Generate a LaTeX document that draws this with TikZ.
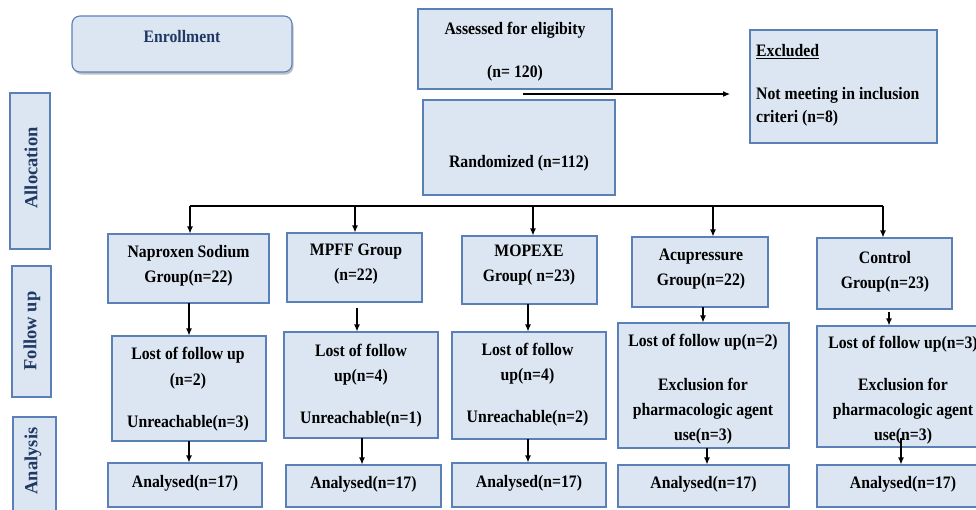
\documentclass[tikz,border=0pt]{standalone}
\usepackage{fontspec}
\setmainfont{Liberation Serif}[FakeStretch=0.9]
\newfontfamily\sidefont{Liberation Serif}
\usetikzlibrary{arrows.meta,shadows}
\definecolor{boxfill}{HTML}{DCE6F2}
\definecolor{boxline}{HTML}{5B80B8}
\definecolor{navy}{HTML}{1F3864}
\begin{document}
\begin{tikzpicture}[x=1pt,y=-1pt,
  box/.style={draw=boxline, fill=boxfill, line width=1.1pt, inner sep=0pt},
  txt/.style={font=\bfseries\fontsize{17.5}{25}\selectfont, align=center, inner sep=0pt},
  side/.style={font=\sidefont\bfseries\fontsize{18.5}{22}\selectfont, text=navy, rotate=90, inner sep=0pt},
  arr/.style={line width=1.1pt, -{Latex[length=7pt,width=6pt]}},
  plain/.style={line width=1.1pt}]
\useasboundingbox (0,0) rectangle (976,509);
\clip (0,0) rectangle (976,509);

% side boxes
\node[box, rounded corners=8pt, minimum width=220pt, minimum height=56pt,
  drop shadow={shadow xshift=1.5pt, shadow yshift=-2.5pt, fill=black!50, opacity=0.5}] (enroll) at (182,44) {};
\node[txt, text=navy] (tenroll) at (182,37) {Enrollment};
\node[box, minimum width=40pt, minimum height=156pt] (alloc) at (30,171) {};
\node[side] (talloc) at (31,168) {Allocation};
\node[box, minimum width=39pt, minimum height=131pt] (follow) at (31.5,331.5) {};
\node[side] (tfollow) at (32,331) {Follow up};
\node[box, minimum width=43pt, minimum height=103pt] (anal) at (34.5,468.5) {};
\node[side] (tanal) at (33,461) {Analysis};

% top
\node[box, minimum width=194pt, minimum height=80pt] (assess) at (515,49) {};
\node[txt] (tassess) at (515,51.5) {Assessed for eligibity\\[18pt](n= 120)};
\node[box, minimum width=192pt, minimum height=95pt] (random) at (519,147.5) {};
\node[txt] (trandom) at (519,163) {Randomized (n=112)};
\node[box, minimum width=187pt, minimum height=113pt] (excl) at (843.5,86.5) {};
\node[txt, font=\bfseries\fontsize{17.5}{23}\selectfont, align=left, anchor=west] (texcl) at (756,85)
  {\underline{Excluded}\\[20pt]Not meeting in inclusion\\criteri (n=8)};
\coordinate (ea) at (523,94);
\coordinate (ee) at (730,94);
\draw[arr] (ea) -- (ee);

% groups
\node[box, minimum width=161pt, minimum height=69pt] (g1) at (188.5,268.5) {};
\node[txt] (tg1) at (188.5,265.5) {Naproxen Sodium\\Group(n=22)};
\node[box, minimum width=135pt, minimum height=69pt] (g2) at (354.5,267.5) {};
\node[txt] (tg2) at (356,264.5) {MPFF Group\\(n=22)};
\node[box, minimum width=135pt, minimum height=68pt] (g3) at (529.5,270) {};
\node[txt] (tg3) at (529,265) {MOPEXE\\Group( n=23)};
\node[box, minimum width=136pt, minimum height=70pt] (g4) at (700,272) {};
\node[txt] (tg4) at (701,269.5) {Acupressure\\Group(n=22)};
\node[box, minimum width=135pt, minimum height=71pt] (g5) at (884.5,273.5) {};
\node[txt] (tg5) at (885,272) {Control\\Group(n=23)};

% lost
\node[box, minimum width=154pt, minimum height=105pt] (l1) at (189,388.5) {};
\node[txt, font=\bfseries\fontsize{17.5}{26}\selectfont] (tl1) at (188,389) {Lost of follow up\\(n=2)\\[16pt]Unreachable(n=3)};
\node[box, minimum width=154pt, minimum height=106pt] (l2) at (361,385) {};
\node[txt] (tl2) at (361,385.5) {Lost of follow\\up(n=4)\\[17pt]Unreachable(n=1)};
\node[box, minimum width=154pt, minimum height=107pt] (l3) at (529,385.5) {};
\node[txt] (tl3) at (527.5,384.5) {Lost of follow\\up(n=4)\\[17pt]Unreachable(n=2)};
\node[box, minimum width=171pt, minimum height=125pt] (l4) at (703.5,385.5) {};
\node[txt] (tl4) at (703,389) {Lost of follow up(n=2)\\[19pt]Exclusion for\\pharmacologic agent\\use(n=3)};
\node[box, minimum width=173pt, minimum height=121pt] (l5) at (903.5,386.5) {};
\node[txt] (tl5) at (903,390) {Lost of follow up(n=3)\\[17pt]Exclusion for\\pharmacologic agent\\use(n=3)};

% analysed
\node[box, minimum width=154pt, minimum height=44pt] (a1) at (185,485) {};
\node[txt] (ta1) at (185,483) {Analysed(n=17)};
\node[box, minimum width=155pt, minimum height=42pt] (a2) at (363.5,486) {};
\node[txt] (ta2) at (363.5,484) {Analysed(n=17)};
\node[box, minimum width=154pt, minimum height=44pt] (a3) at (529,485) {};
\node[txt] (ta3) at (529,483) {Analysed(n=17)};
\node[box, minimum width=171pt, minimum height=42pt] (a4) at (703.5,486) {};
\node[txt] (ta4) at (703.5,484) {Analysed(n=17)};
\node[box, minimum width=173pt, minimum height=42pt] (a5) at (903.5,486) {};
\node[txt] (ta5) at (903,484) {Analysed(n=17)};

% branching line
\coordinate (b1) at (190,206);
\coordinate (b2) at (355,206);
\coordinate (b3) at (533,206);
\coordinate (b4) at (713,206);
\coordinate (b5) at (883,206);
\draw[plain] (b1) -- (b5);
\draw[arr] (b1) -- (b1 |- g1.north);
\draw[arr] (b2) -- (b2 |- g2.north);
\draw[arr] (b3) -- (b3 |- g3.north);
\draw[arr] (b4) -- (b4 |- g4.north);
\draw[arr] (b5) -- (b5 |- g5.north);

% group -> lost
\coordinate (s1) at (189,303);
\coordinate (s2) at (357,308);
\coordinate (s3) at (528,304);
\coordinate (s4) at (703,307);
\coordinate (s5) at (889,312);
\draw[arr] (s1) -- (s1 |- l1.north);
\draw[arr] (s2) -- (s2 |- l2.north);
\draw[arr] (s3) -- (s3 |- l3.north);
\draw[arr] (s4) -- (s4 |- l4.north);
\draw[arr] (s5) -- (s5 |- l5.north);

% lost -> analysed
\coordinate (u1) at (189,441);
\coordinate (u2) at (362,438);
\coordinate (u3) at (528,439);
\coordinate (u4) at (707,448);
\coordinate (u5) at (901,438);
\draw[arr] (u1) -- (u1 |- a1.north);
\draw[arr] (u2) -- (u2 |- a2.north);
\draw[arr] (u3) -- (u3 |- a3.north);
\draw[arr] (u4) -- (u4 |- a4.north);
\draw[arr] (u5) -- (u5 |- a5.north);
\end{tikzpicture}
\end{document}
